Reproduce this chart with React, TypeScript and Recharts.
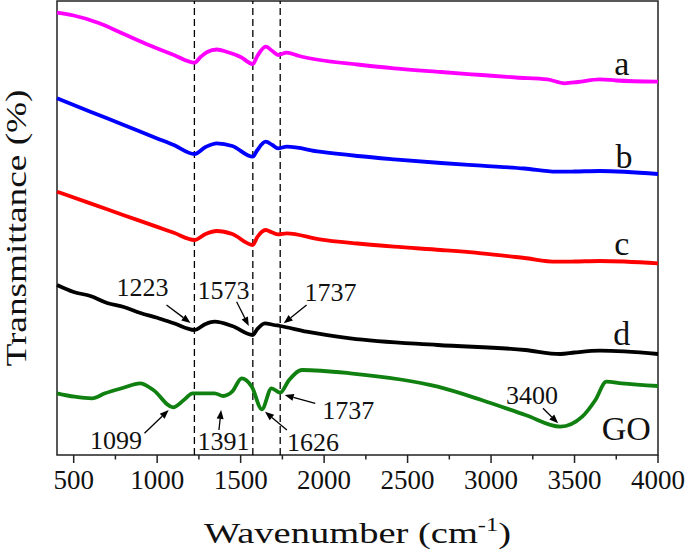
import { LineChart, Line, XAxis, YAxis, ReferenceLine, ReferenceDot, ReferenceArea, Label } from "recharts";

const FONT = "Liberation Serif, Times New Roman, Times, serif";
const AXIS = "#222";

// FTIR curves (offset transmittance, arbitrary units)
const aWave = [400, 500, 650, 800, 950, 1100, 1223, 1260, 1300, 1357, 1420, 1500, 1573, 1600, 1650, 1690, 1724, 1776, 1850, 1973, 2200, 2419, 2700, 2943, 3150, 3337, 3441, 3520, 3651, 3750, 4000];
const aT = [442.3, 439.5, 432, 421, 410, 400, 392.3, 398, 403, 405.5, 403, 398, 391, 399, 408.3, 404, 400, 402.3, 399, 395, 390.5, 386.7, 383, 380, 377.5, 375.7, 371.7, 373, 375.7, 374.5, 373.3];

const bWave = [400, 600, 800, 1000, 1100, 1223, 1290, 1357, 1450, 1573, 1600, 1650, 1690, 1724, 1776, 1973, 2200, 2419, 2700, 2943, 3200, 3390, 3500, 3651, 4000];
const bT = [356.7, 343.3, 330, 316.6, 310, 301, 308, 311.7, 309, 298.3, 305, 313.3, 310, 306.7, 308.3, 303.3, 299, 295.7, 292, 289.3, 286.5, 283.3, 283.5, 284, 281];

const cWave = [400, 600, 800, 1000, 1100, 1223, 1290, 1357, 1450, 1573, 1600, 1650, 1690, 1724, 1776, 1973, 2200, 2419, 2700, 2943, 3200, 3390, 3500, 3651, 4000];
const cT = [263.3, 251.6, 239.8, 228.1, 222.2, 215, 221, 224, 221, 210, 218, 225, 222.5, 220.7, 221.7, 215.7, 211.5, 208.3, 205, 201.7, 197, 193.3, 193.5, 194, 191.7];

const dWave = [400, 500, 600, 700, 800, 900, 1000, 1100, 1223, 1290, 1344, 1450, 1573, 1600, 1645, 1700, 1737, 1895, 2157, 2681, 3205, 3415, 3500, 3651, 4000];
const dT = [170, 163, 159, 152, 148, 142, 137.2, 131.7, 125, 131, 133.3, 129, 120, 126, 131.7, 130, 129, 123.3, 116.7, 110, 105, 101, 102.5, 104.3, 101];

const goWave = [400, 505, 610, 688, 793, 898, 977, 1095, 1160, 1213, 1344, 1396, 1449, 1506, 1567, 1627, 1685, 1737, 1790, 1868, 2157, 2681, 2943, 3206, 3415, 3546, 3625, 3691, 3782, 4000];
const goT = [61.7, 58.3, 56.7, 61.7, 67, 71.7, 65, 47.7, 55, 61.7, 61.7, 59, 63.3, 76.7, 68.3, 45.7, 66.7, 62.3, 75, 85, 81.7, 68.3, 55, 40, 28.3, 38.3, 55, 73.3, 71.7, 69];

const peakLines = [1223, 1573, 1737];

const majorTicks = [500, 1000, 1500, 2000, 2500, 3000, 3500, 4000];
const minorTicks = [750, 1250, 1750, 2250, 2750, 3250, 3750];

// curve names and where they sit
const curveNames = ["a", "b", "c", "d", "GO"];
const curveNameWave = [3783, 3796, 3783, 3783, 3810];
const curveNameT = [391.7, 298.3, 211.7, 121.7, 26.7];

// peak annotations: label position and arrow (from -> tip)
const noteLabels = ["1223", "1573", "1737", "1099", "1391", "1626", "1737", "3400"];
const noteWave = [912, 1397, 2039, 754, 1397, 1934, 2144, 3245];
const noteT = [168, 165, 163, 15, 14, 13, 45, 60];
const arrowFrom = [[1056, 150], [1476, 153.3], [1895, 150], [924, 21.7], [1370, 25], [1777, 25], [1947, 51.7], [3311, 46.7]];
const arrowTo = [[1200, 132], [1549, 129], [1758, 131.7], [1069, 45], [1383, 45], [1646, 43.3], [1764, 60], [3402, 31.7]];

const series = [
  { name: "a", color: "#ff00ff", wave: aWave, t: aT },
  { name: "b", color: "#0000ff", wave: bWave, t: bT },
  { name: "c", color: "#ff0000", wave: cWave, t: cT },
  { name: "d", color: "#000000", wave: dWave, t: dT },
  { name: "GO", color: "#108010", wave: goWave, t: goT },
];

const toPoints = (ws: number[], ts: number[]) => ws.map((w, i) => ({ w, t: ts[i] }));

function WaveTick(props: any) {
  const { x, y, payload } = props;
  const major = payload.value % 500 === 0;
  return (
    <g>
      <line x1={x} x2={x} y1={y} y2={y + (major ? 8 : 4.5)} stroke={AXIS} strokeWidth={1.5} />
      {major && (
        <text x={x} y={y + 34} textAnchor="middle" fontSize={27} style={{ fontFamily: FONT }} fill="#111">
          {payload.value}
        </text>
      )}
    </g>
  );
}

function arrowShape(p: any) {
  const { x1, y1, x2, y2 } = p;
  const ang = Math.atan2(y2 - y1, x2 - x1);
  const c = Math.cos(ang), s = Math.sin(ang);
  const bx = x2 - 9 * c, by = y2 - 9 * s;
  const pts = `${x2},${y2} ${bx - 3.5 * s},${by + 3.5 * c} ${bx + 3.5 * s},${by - 3.5 * c}`;
  return (
    <g>
      <line x1={x1} y1={y1} x2={bx} y2={by} stroke="#000" strokeWidth={1.3} />
      <polygon points={pts} fill="#000" />
    </g>
  );
}

const textShape = (label: string, size: number) => (p: any) => (
  <text x={p.cx} y={p.cy} textAnchor="middle" dominantBaseline="central" fontSize={size} style={{ fontFamily: FONT }} fill="#111">
    {label}
  </text>
);

export default function App() {
  return (
    <div style={{ position: "absolute", left: 0, top: 0, background: "#fff" }}>
      <LineChart width={685} height={553} margin={{ top: 1, right: 27, bottom: 0, left: 0 }}>
        <XAxis
          dataKey="w"
          type="number"
          domain={[400, 4000]}
          ticks={[...majorTicks, ...minorTicks].sort((p, q) => p - q)}
          interval={0}
          height={98}
          tickSize={0}
          tickMargin={0}
          tickLine={false}
          tick={<WaveTick />}
          axisLine={false}
          allowDuplicatedCategory={false}
        >
          <Label
            content={(p: any) => {
              const vb = p.viewBox;
              return (
                <text x={vb.x + vb.width / 2} y={vb.y + 88} textAnchor="middle" fontSize={30} style={{ fontFamily: FONT }} fill="#111" textLength={307} lengthAdjust="spacingAndGlyphs">
                  Wavenumber (cm<tspan dy={-12} fontSize={19}>-1</tspan><tspan dy={12}>)</tspan>
                </text>
              );
            }}
          />
        </XAxis>
        <YAxis type="number" domain={[0, 454]} width={57} tick={false} tickLine={false} axisLine={false}>
          <Label
            content={(p: any) => {
              const vb = p.viewBox;
              const cx = vb.x + 26;
              const cy = vb.y + vb.height / 2;
              return (
                <text x={cx} y={cy} transform={`rotate(-90 ${cx} ${cy})`} textAnchor="middle" fontSize={30} style={{ fontFamily: FONT }} fill="#111" textLength={277} lengthAdjust="spacingAndGlyphs">
                  Transmittance (%)
                </text>
              );
            }}
          />
        </YAxis>

        <ReferenceArea x1={400} x2={4000} y1={0} y2={454} fill="none" fillOpacity={0} stroke={AXIS} strokeWidth={1.5} ifOverflow="visible" />

        {peakLines.map((w) => (
          <ReferenceLine key={`pk${w}`} x={w} stroke="#000" strokeWidth={1.3} strokeDasharray="7 4" />
        ))}

        {series.map((s) => (
          <Line
            key={s.name}
            data={toPoints(s.wave, s.t)}
            dataKey="t"
            type="monotone"
            stroke={s.color}
            strokeWidth={3.8}
            dot={false}
            activeDot={false}
            isAnimationActive={false}
          />
        ))}

        {arrowFrom.map((f, i) => (
          <ReferenceLine
            key={`ar${i}`}
            segment={[{ x: f[0], y: f[1] }, { x: arrowTo[i][0], y: arrowTo[i][1] }]}
            shape={arrowShape}
            ifOverflow="visible"
          />
        ))}

        {noteLabels.map((lab, i) => (
          <ReferenceDot key={`nt${i}`} x={noteWave[i]} y={noteT[i]} r={1} shape={textShape(lab, 26)} ifOverflow="visible" />
        ))}

        {curveNames.map((n, i) => (
          <ReferenceDot key={`cn${n}`} x={curveNameWave[i]} y={curveNameT[i]} r={1} shape={textShape(n, 34)} ifOverflow="visible" />
        ))}
      </LineChart>
    </div>
  );
}
